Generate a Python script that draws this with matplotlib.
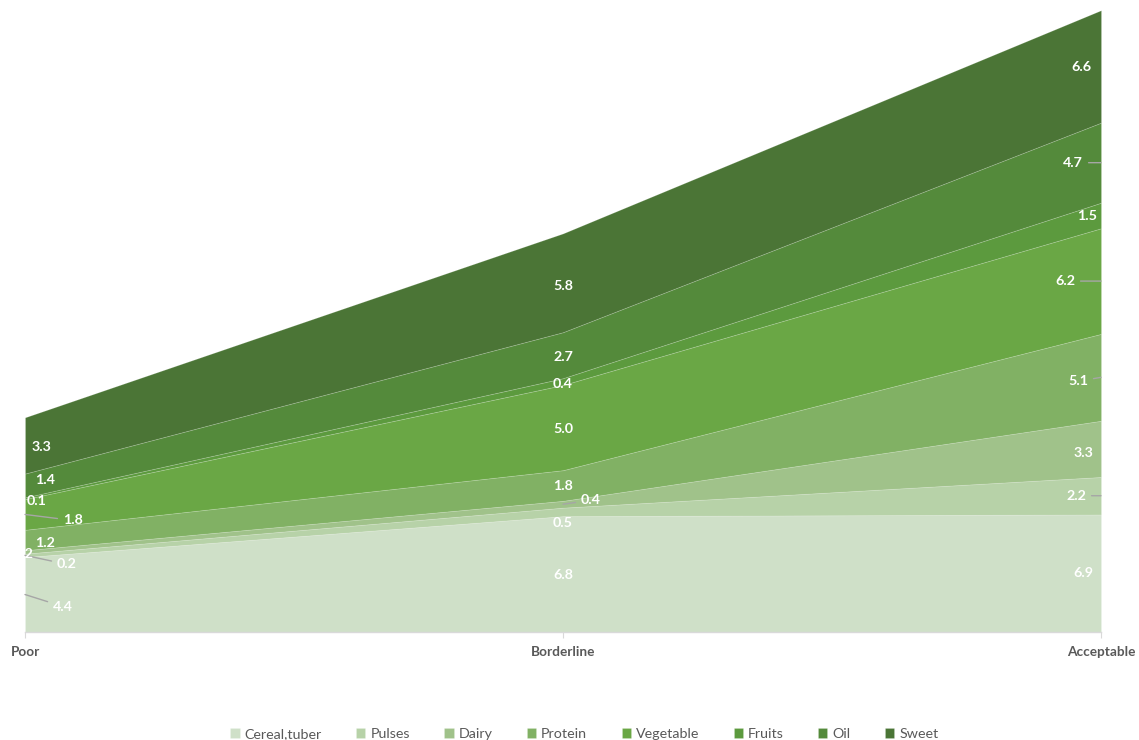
import numpy as np
import matplotlib
matplotlib.use("Agg")
import matplotlib.pyplot as plt

plt.rcParams['font.family'] = ['Lato', 'DejaVu Sans']

# ── data ────────────────────────────────────────────────────────────────
categories = ["Poor", "Borderline", "Acceptable"]
food_groups = ["Cereal,tuber", "Pulses", "Dairy", "Protein",
               "Vegetable", "Fruits", "Oil", "Sweet"]

cereal    = [4.4, 6.8, 6.9]
pulses    = [0.2, 0.5, 2.2]
dairy     = [0.2, 0.4, 3.3]
protein   = [1.2, 1.8, 5.1]
vegetable = [1.8, 5.0, 6.2]
fruits    = [0.1, 0.4, 1.5]
oil       = [1.4, 2.7, 4.7]
sweet     = [3.3, 5.8, 6.6]

series = [cereal, pulses, dairy, protein, vegetable, fruits, oil, sweet]

colors = ["#cfe0c8", "#b7d2a8", "#a0c28a", "#81b164",
          "#6aa745", "#5c9a3e", "#548a3b", "#4b7536"]

# label nudges in pixels (dx, dy, leader line); dy > 0 moves the label down
label_layout = {
    0: [(28, 12, True), (32, 9, True), (-11, 2, False), (10, 3, False),
        (38, 6, True), (2, 3, False), (10, -5, False), (7, 2, False)],
    1: [(0, 1, False), (0, 11, False), (18, -4, True), (0, 1, False),
        (0, 1, False), (0, 2, False), (0, 2, False), (0, 3, False)],
    2: [(-8, 0, False), (-15, 0, True), (-8, 4, False), (-13, 4, True),
        (-26, 0, True), (-4, 1, False), (-18, 0, True), (-9, 1, False)],
}

fig = plt.figure(figsize=(11.39, 7.40), dpi=100)
ax = fig.add_axes([25 / 1139, 108 / 740, 1076 / 1139, 632 / 740])

x = np.arange(len(categories))
ax.stackplot(x, *series, colors=colors, labels=food_groups,
             edgecolor=(1, 1, 1, 0.18), linewidth=0.6)

ax.set_xlim(0, 2)
ax.set_ylim(0, 37.1)

# value labels at the middle of each band
tops = np.cumsum(np.array(series), axis=0)
for j in range(len(categories)):
    for i, vals in enumerate(series):
        mid = tops[i, j] - vals[j] / 2
        dx, dy, leader = label_layout[j][i]
        if j == 0 or (j == 1 and dx > 0):
            ha = "left"
        elif j == 2:
            ha = "right"
        else:
            ha = "center"
        arrow = None
        if leader:
            arrow = dict(arrowstyle="-", color="#a6a6a6", lw=1.0,
                         shrinkA=2, shrinkB=0)
        t = ax.annotate(f"{vals[j]:.1f}", xy=(x[j], mid),
                        xytext=(dx, -dy), textcoords="offset pixels",
                        ha=ha, va="center", color="white",
                        fontsize=10.3, fontweight="bold",
                        arrowprops=arrow, annotation_clip=False)
        t.set_clip_on(True)

# axes styling
for side in ["top", "right", "left"]:
    ax.spines[side].set_visible(False)
ax.spines["bottom"].set_color("#d9d9d9")
ax.spines["bottom"].set_linewidth(1.0)
ax.set_yticks([])
ax.set_xticks(x)
ax.set_xticklabels(categories, fontsize=9.8, fontweight="bold", color="#595959")
ax.tick_params(axis="x", length=4, color="#d9d9d9", pad=6)

fig.legend(loc="lower center", bbox_to_anchor=(0.513, -0.008), ncol=8,
           frameon=False, fontsize=10.3, labelcolor="#595959",
           handlelength=0.65, handleheight=0.65, handletextpad=0.35,
           columnspacing=2.4, borderaxespad=0.0)

fig.savefig("out.png", dpi=100)
